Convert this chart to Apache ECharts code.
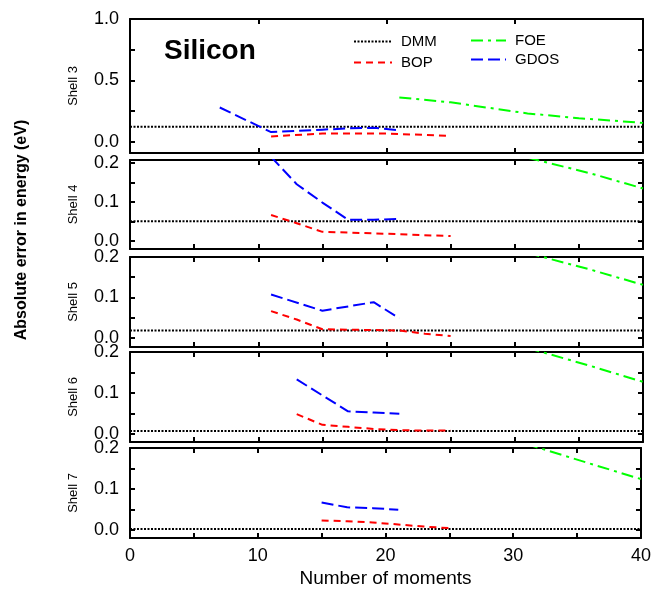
<!DOCTYPE html>
<html lang="en">
<head>
	<meta charset="UTF-8">
	<title>Silicon</title>
	<style type="text/css">
		html, body { margin: 0; padding: 0; background: #fff; }
		#a { width: 654px; height: 590px; }
	</style>
</head>
<body>
	<div id="a"></div>
	<script type="text/javascript" src="https://cdn.jsdelivr.net/npm/echarts@6/dist/echarts.min.js"></script>
	<script type="text/javascript">
		// data, one entry per shell panel
		var shells = ['Shell 3', 'Shell 4', 'Shell 5', 'Shell 6', 'Shell 7'];
		var xTicks = [0, 10, 20, 30, 40];

		var dmmX = [0, 40];
		var dmm = [0.123, 0.05, 0.018, 0.007, 0.002];

		var bopX = [
			[11, 15, 20, 25],
			[11, 13, 15, 20, 25],
			[11, 13, 15, 17, 19, 21, 23, 25],
			[13, 15, 17, 19, 21, 23, 25],
			[15, 17, 19, 21, 23, 25]
		];
		var bop = [
			[0.045, 0.068, 0.068, 0.05],
			[0.066, 0.045, 0.023, 0.018, 0.012],
			[0.066, 0.045, 0.021, 0.02, 0.019, 0.018, 0.01, 0.004],
			[0.048, 0.022, 0.017, 0.012, 0.009, 0.008, 0.008],
			[0.023, 0.021, 0.018, 0.013, 0.008, 0.004]
		];

		var gdosX = [
			[7, 11, 13, 15, 17, 19, 21],
			[11, 13, 15, 17, 19, 21],
			[11, 15, 19, 21],
			[13, 15, 17, 19, 21],
			[15, 17, 19, 21]
		];
		var gdos = [
			[0.28, 0.08, 0.09, 0.1, 0.11, 0.115, 0.095],
			[0.215, 0.145, 0.098, 0.054, 0.054, 0.056],
			[0.107, 0.067, 0.088, 0.048],
			[0.133, 0.094, 0.055, 0.052, 0.049],
			[0.067, 0.055, 0.053, 0.049]
		];

		var foeX = [
			[21, 25, 31, 35, 40],
			[31, 36, 40],
			[31, 36, 40],
			[31, 36, 40],
			[31, 36, 40]
		];
		var foe = [
			[0.362, 0.322, 0.232, 0.193, 0.155],
			[0.213, 0.172, 0.134],
			[0.21, 0.168, 0.131],
			[0.21, 0.165, 0.127],
			[0.21, 0.162, 0.124]
		];

		// y tick labels per panel
		var yLabels = [[0, 0.5, 1.0], [0, 0.1, 0.2], [0, 0.1, 0.2], [0, 0.1, 0.2], [0, 0.1, 0.2]];
		var yMinor = [[0.25, 0.75], [0.05, 0.15], [0.05, 0.15], [0.05, 0.15], [0.05, 0.15]];

		// layout
		var tops = [19, 160, 257, 352, 448];
		var heights = [134, 89, 90, 90, 90];
		var yMin = [-0.09, -0.021, -0.023, -0.02, -0.02];
		var yMax = [1.0, 0.207, 0.2, 0.2, 0.2];
		var font = 'Liberation Sans, Arial, Helvetica, sans-serif';

		function pairs(xs, ys) {
			var out = [];
			for (var k = 0; k < xs.length; k++) {
				out.push([xs[k], ys[k]]);
			}
			return out;
		}

		var tickLine = { color: '#000', width: 2 };
		var grids = [], xAxes = [], yAxes = [], series = [];

		for (var i = 0; i < shells.length; i++) {
			grids.push({ left: 130, right: 11, top: tops[i], height: heights[i] });

			// bottom and top x axes
			['bottom', 'top'].forEach(function (pos) {
				var last = (pos === 'bottom' && i === shells.length - 1);
				xAxes.push({
					gridIndex: i,
					type: 'value',
					position: pos,
					min: 0, max: 40, interval: 10,
					axisLine: { onZero: false, lineStyle: tickLine },
					axisTick: { inside: true, length: 5, lineStyle: tickLine },
					minorTick: { show: pos === 'bottom' ? i > 0 : i > 1, splitNumber: 2, length: 5, lineStyle: tickLine },
					splitLine: { show: false },
					axisLabel: {
						show: last, color: '#000', fontFamily: font, fontSize: 18, margin: 9,
						customValues: xTicks
					},
					name: last ? 'Number of moments' : '',
					nameLocation: 'middle',
					nameGap: 31,
					nameTextStyle: { color: '#000', fontFamily: font, fontSize: 19 }
				});
			});

			// left and right y axes
			['left', 'right'].forEach(function (pos) {
				var left = pos === 'left';
				yAxes.push({
					gridIndex: i,
					type: 'value',
					position: pos,
					min: yMin[i], max: yMax[i],
					axisLine: { show: true, onZero: false, lineStyle: tickLine },
					axisTick: { show: true, inside: true, length: 5, lineStyle: tickLine,
						customValues: yLabels[i].concat(yMinor[i]) },
					splitLine: { show: false },
					axisLabel: {
						show: left, color: '#000', fontFamily: font, fontSize: 18, margin: 11,
						customValues: yLabels[i],
						formatter: function (v) { return v.toFixed(1); }
					},
					name: left ? shells[i] : '',
					nameLocation: 'middle',
					nameGap: 50,
					nameTextStyle: { color: '#000', fontFamily: font, fontSize: 13 }
				});
			});

			var xi = 2 * i, yi = 2 * i;
			series.push({
				name: 'DMM', type: 'line', xAxisIndex: xi, yAxisIndex: yi, symbol: 'none',
				data: pairs(dmmX, [dmm[i], dmm[i]]),
				lineStyle: { color: '#000', width: 2, type: [2, 1.5] }, itemStyle: { color: '#000' }
			});
			series.push({
				name: 'BOP', type: 'line', xAxisIndex: xi, yAxisIndex: yi, symbol: 'none',
				data: pairs(bopX[i], bop[i]),
				lineStyle: { color: '#ff0000', width: 2, type: [7, 5] }, itemStyle: { color: '#ff0000' }
			});
			series.push({
				name: 'FOE', type: 'line', xAxisIndex: xi, yAxisIndex: yi, symbol: 'none',
				data: pairs(foeX[i], foe[i]),
				lineStyle: { color: '#00ff00', width: 2, type: [12, 5, 3, 5] }, itemStyle: { color: '#00ff00' }
			});
			series.push({
				name: 'GDOS', type: 'line', xAxisIndex: xi, yAxisIndex: yi, symbol: 'none',
				data: pairs(gdosX[i], gdos[i]),
				lineStyle: { color: '#0000ff', width: 2, type: [12, 5] }, itemStyle: { color: '#0000ff' }
			});
		}

		var legendText = { color: '#000', fontFamily: font, fontSize: 15, padding: [0, 0, 0, 4] };
		// hide the circle that ECharts puts in the middle of line legend icons
		var noSymbol = { color: 'rgba(0,0,0,0)', borderWidth: 0, opacity: 0 };

		var option = {
			animation: false,
			backgroundColor: '#fff',
			grid: grids,
			xAxis: xAxes,
			yAxis: yAxes,
			legend: [
				{ data: ['DMM', 'BOP'], orient: 'vertical', left: 353, top: 34, padding: 0,
				  itemWidth: 38, itemHeight: 14, itemGap: 6, textStyle: legendText, itemStyle: noSymbol },
				{ data: ['FOE', 'GDOS'], orient: 'vertical', left: 470, top: 33, padding: 0,
				  itemWidth: 35, itemHeight: 14, itemGap: 4, textStyle: legendText, itemStyle: noSymbol }
			],
			graphic: [
				{ type: 'text', left: 164, top: 37,
				  style: { text: 'Silicon', font: 'bold 28px ' + font, fill: '#000' } },
				{ type: 'text', x: 22, y: 230, rotation: Math.PI / 2,
				  style: { text: 'Absolute error in energy (eV)', font: 'bold 16px ' + font, fill: '#000',
				           align: 'center', verticalAlign: 'middle' } }
			],
			series: series
		};

		var myChart = echarts.init(document.getElementById('a'));
		myChart.setOption(option);
	</script>
</body>
</html>
